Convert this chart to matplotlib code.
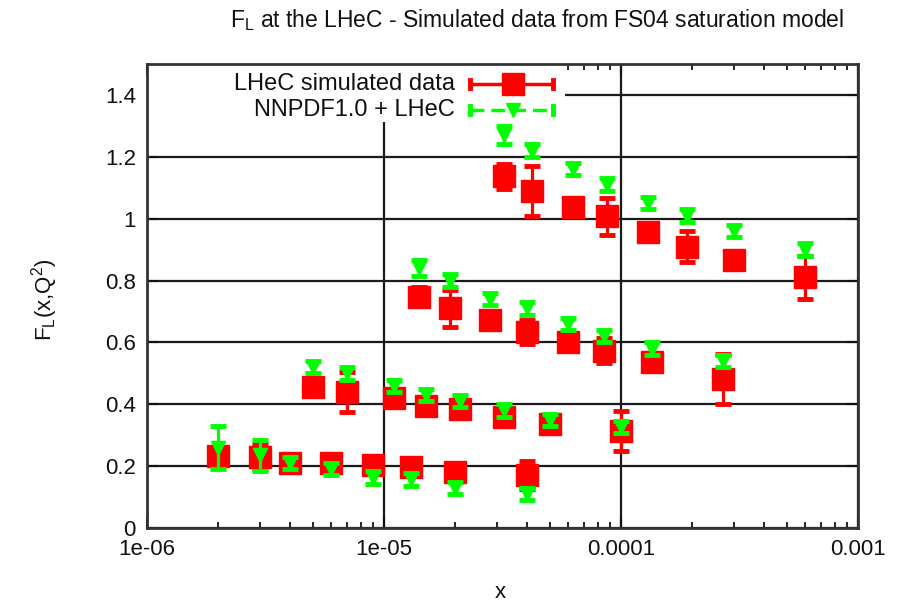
import matplotlib
matplotlib.use("Agg")
import matplotlib.pyplot as plt
from matplotlib.patches import Rectangle
from matplotlib.lines import Line2D
from matplotlib.ticker import LogLocator, NullFormatter, FixedLocator

plt.rcParams['font.family'] = ['Liberation Sans', 'DejaVu Sans']

# x values (four Q^2 bins)
x_vals = [2e-6, 3e-6, 4e-6, 6e-6, 9e-6, 1.3e-5, 2e-5, 4e-5,
          5e-6, 7e-6, 1.1e-5, 1.5e-5, 2.1e-5, 3.2e-5, 5e-5, 1e-4,
          1.4e-5, 1.9e-5, 2.8e-5, 4e-5, 6e-5, 8.5e-5, 1.35e-4, 2.7e-4,
          3.2e-5, 4.2e-5, 6.3e-5, 8.7e-5, 1.3e-4, 1.9e-4, 3e-4, 6e-4]

# LHeC simulated data
lhec_fl = [0.232, 0.23, 0.21, 0.21, 0.205, 0.196, 0.18, 0.17,
           0.456, 0.44, 0.42, 0.395, 0.385, 0.36, 0.336, 0.313,
           0.748, 0.71, 0.673, 0.634, 0.60, 0.573, 0.537, 0.482,
           1.137, 1.09, 1.037, 1.008, 0.956, 0.91, 0.865, 0.81]
lhec_err = [0.03, 0.04, 0.02, 0.02, 0.02, 0.02, 0.02, 0.045,
            0.02, 0.065, 0.02, 0.03, 0.02, 0.02, 0.02, 0.065,
            0.03, 0.06, 0.02, 0.04, 0.02, 0.04, 0.02, 0.08,
            0.04, 0.08, 0.02, 0.06, 0.02, 0.05, 0.02, 0.07]

# NNPDF1.0 + LHeC
nnpdf_fl = [0.26, 0.235, 0.21, 0.19, 0.163, 0.157, 0.13, 0.11,
            0.52, 0.50, 0.46, 0.43, 0.41, 0.38, 0.35, 0.326,
            0.84, 0.80, 0.74, 0.71, 0.66, 0.62, 0.58, 0.54,
            1.27, 1.22, 1.16, 1.11, 1.05, 1.01, 0.96, 0.90]
nnpdf_err = [0.07, 0.05, 0.02, 0.02, 0.02, 0.02, 0.02, 0.02,
             0.02, 0.02, 0.02, 0.02, 0.02, 0.02, 0.02, 0.02,
             0.025, 0.02, 0.02, 0.02, 0.02, 0.02, 0.02, 0.02,
             0.03, 0.02, 0.02, 0.02, 0.02, 0.02, 0.02, 0.02]

y_ticks = [0, 0.2, 0.4, 0.6, 0.8, 1.0, 1.2, 1.4]
y_ticklabels = ['0', '0.2', '0.4', '0.6', '0.8', '1', '1.2', '1.4']
x_ticks = [1e-6, 1e-5, 1e-4, 1e-3]
x_ticklabels = ['1e-06', '1e-05', '0.0001', '0.001']

W, H = 897, 603
fig = plt.figure(figsize=(W / 100, H / 100), dpi=100)
L, R, T, B = 147, 858, 64, 528
ax = fig.add_axes([L / W, 1 - B / H, (R - L) / W, (B - T) / H])

RED = '#ff0000'
GREEN = '#00ff00'
FS = 16
FS_KEY = 17
FS_TITLE = 16.5
TXT = '#111111'

ax.errorbar(x_vals, lhec_fl, yerr=lhec_err, fmt='s', color=RED, ms=15.5,
            elinewidth=2.3, capsize=6, capthick=3.5, zorder=3)
ax.errorbar(x_vals, nnpdf_fl, yerr=nnpdf_err, fmt='v', color=GREEN, ms=10,
            elinewidth=2.3, capsize=6, capthick=3.5, zorder=4)

ax.set_xscale('log')
ax.set_xlim(1e-6, 1e-3)
ax.set_ylim(0, 1.5)
ax.xaxis.set_major_locator(FixedLocator(x_ticks))
ax.set_xticklabels(x_ticklabels)
ax.xaxis.set_minor_locator(LogLocator(base=10, subs=range(2, 10)))
ax.xaxis.set_minor_formatter(NullFormatter())
ax.set_yticks(y_ticks)
ax.set_yticklabels(y_ticklabels)

ax.grid(True, which='major', color='#1a1a1a', lw=1.6, zorder=1)
ax.set_axisbelow(True)
ax.tick_params(which='major', direction='in', length=8, width=1.5, top=True, right=True,
               labelsize=FS, colors=TXT, pad=8)
ax.tick_params(which='minor', direction='in', length=4, width=1.2, top=True, right=False)
for s in ax.spines.values():
    s.set_linewidth(2)
    s.set_color('#333333')

# key area (opaque, like gnuplot)
ax.add_patch(Rectangle((0, 0.875), 0.588, 0.125, transform=ax.transAxes,
                       facecolor='white', edgecolor='none', zorder=2.5))

def ax_x(px):
    return (px - L) / (R - L)

def ax_y(py):
    return (B - py) / (B - T)

for label, py, col, mk, ms, ls in [
        ('LHeC simulated data', 84, RED, 's', 15.5, '-'),
        ('NNPDF1.0 + LHeC', 110, GREEN, 'v', 10, (0, (4, 2)))]:
    ax.text(ax_x(455), ax_y(py), label, transform=ax.transAxes, ha='right',
            va='center', fontsize=FS_KEY, color=TXT, zorder=6)
    ax.add_line(Line2D([ax_x(470), ax_x(553)], [ax_y(py), ax_y(py)],
                       transform=ax.transAxes, color=col, lw=2.5, ls=ls, zorder=6))
    for ex in (470, 553):
        ax.add_line(Line2D([ax_x(ex), ax_x(ex)], [ax_y(py - 4), ax_y(py + 4)],
                           transform=ax.transAxes, color=col, lw=3.5, zorder=6))
    ax.add_line(Line2D([ax_x(513)], [ax_y(py)], transform=ax.transAxes, color=col,
                       marker=mk, ms=ms, ls='none', zorder=7))

fig.text(537 / W, 1 - 20 / H, r'F$_\mathregular{L}$ at the LHeC - Simulated data from FS04 saturation model',
         ha='center', va='center', fontsize=FS_TITLE, color=TXT)
fig.text(500 / W, 1 - 592 / H, 'x', ha='center', va='center', fontsize=FS, color=TXT)
fig.text(45 / W, 1 - 300 / H, r'F$_\mathregular{L}$(x,Q$^\mathregular{2}$)', ha='center', va='center',
         rotation=90, fontsize=FS, color=TXT)

fig.savefig('out.png', dpi=100)
